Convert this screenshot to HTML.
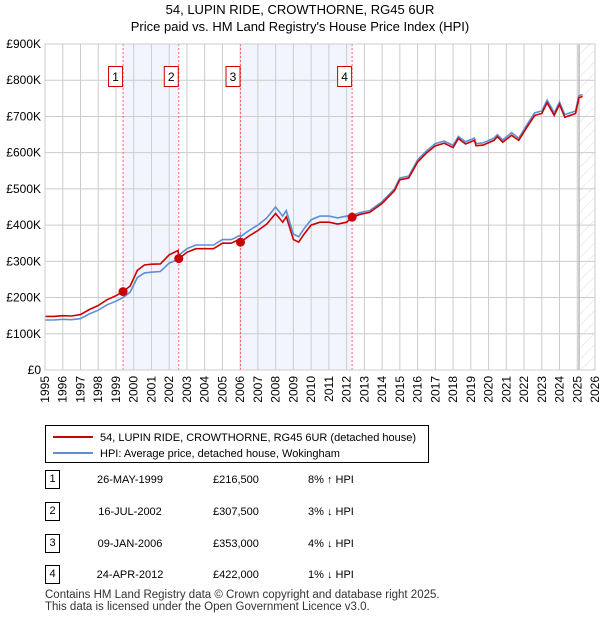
<!DOCTYPE html>
<html><head><meta charset="utf-8"><style>
body{margin:0;background:#fff;font-family:"Liberation Sans","DejaVu Sans",sans-serif;}
#wrap{position:relative;width:600px;height:620px;}
.t{position:absolute;font-size:12px;color:#000;}
</style></head><body>
<div id="wrap">
<svg id="svg" width="600" height="620" style="position:absolute;left:0;top:0">
<defs><pattern id="hatch" width="8" height="8" patternUnits="userSpaceOnUse" patternTransform="rotate(45)"><line x1="0" y1="0" x2="0" y2="8" stroke="#d4d4d4" stroke-width="0.8"/></pattern></defs>
<text x="300" y="14" text-anchor="middle" font-size="13">54, LUPIN RIDE, CROWTHORNE, RG45 6UR</text>
<text x="300" y="31" text-anchor="middle" font-size="13">Price paid vs. HM Land Registry's House Price Index (HPI)</text>
<g id="plot"></g>
</svg>
<svg width="600" height="620" style="position:absolute;left:0;top:0;pointer-events:none">
<rect x="45.5" y="425.5" width="383" height="37" fill="#fff" stroke="#000"/>
<line x1="53" y1="437" x2="93" y2="437" stroke="#cc0000" stroke-width="2"/>
<text x="100" y="441" font-size="11">54, LUPIN RIDE, CROWTHORNE, RG45 6UR (detached house)</text>
<line x1="53" y1="453" x2="93" y2="453" stroke="#5b8fd6" stroke-width="2"/>
<text x="100" y="457" font-size="11">HPI: Average price, detached house, Wokingham</text>
</svg>
<div id="table"></div>
<div class="t" style="left:45px;top:589px;font-size:11.5px;color:#333;line-height:12px">Contains HM Land Registry data © Crown copyright and database right 2025.<br>This data is licensed under the Open Government Licence v3.0.</div>
</div>
<script>
const dates=[1995.0,1995.5,1996,1996.5,1997,1997.5,1998,1998.5,1999,1999.4,1999.8,2000.2,2000.6,2001,2001.5,2002,2002.5,2002.54,2003,2003.5,2004,2004.5,2005,2005.5,2006,2006.02,2006.5,2007,2007.5,2008,2008.4,2008.6,2009,2009.3,2009.6,2010,2010.5,2011,2011.5,2012,2012.31,2012.8,2013.3,2014,2014.7,2015,2015.5,2016,2016.5,2017,2017.5,2018,2018.3,2018.7,2019.2,2019.3,2019.7,2020.3,2020.5,2020.8,2021.3,2021.7,2022.2,2022.6,2023,2023.3,2023.7,2024,2024.3,2024.9,2025.1,2025.3];
const hpiValues=[138,138,140,139,142,155,165,180,190,200,215,255,268,270,272,295,305,317,335,345,345,345,360,360,372,368,385,400,420,450,425,440,375,368,390,415,425,425,420,425,427,435,440,465,500,530,535,580,605,625,632,620,645,630,640,625,627,640,650,635,655,640,680,710,715,745,710,740,705,715,758,760];
const priceValues=[148,148,150,149,153,167,178,194,205,216.5,232,275,290,292,293,318,330,307.5,325,335,335,335,350,350,362,353,370,385,403,432,408,423,360,353,375,400,408,408,403,408,422,430,435,460,495,525,530,574,599,619,626,614,639,624,634,619,621,634,644,629,648,634,673,703,708,738,703,733,698,708,752,755];
const saleDates=[1999.40,2002.54,2006.02,2012.31];
const salePrices=[216.5,307.5,353,422];
const saleLabels=["1","2","3","4"];
const saleDateText=["26-MAY-1999","16-JUL-2002","09-JAN-2006","24-APR-2012"];
const salePriceText=["£216,500","£307,500","£353,000","£422,000"];
const saleHpiText=["8% ↑ HPI","3% ↓ HPI","4% ↓ HPI","1% ↓ HPI"];
const yTicks=[0,100,200,300,400,500,600,700,800,900];
const yTickLabels=["£0","£100K","£200K","£300K","£400K","£500K","£600K","£700K","£800K","£900K"];
const xYears=[1995,1996,1997,1998,1999,2000,2001,2002,2003,2004,2005,2006,2007,2008,2009,2010,2011,2012,2013,2014,2015,2016,2017,2018,2019,2020,2021,2022,2023,2024,2025,2026];

const L=45,R=595,T=44,B=370,X0=1995,X1=2026,YMAX=900,HATCH=2025.1;
const x=d=>L+(d-X0)/(X1-X0)*(R-L);
const y=v=>B-v/YMAX*(B-T);
const NS="http://www.w3.org/2000/svg";
const g=document.getElementById('plot');
function mk(tag,at,parent){const e=document.createElementNS(NS,tag);for(const k in at)e.setAttribute(k,at[k]);(parent||g).appendChild(e);return e;}
for(let i=0;i<saleDates.length;i+=2){
 const e=mk('rect',{x:x(saleDates[i]),y:T,width:x(saleDates[i+1])-x(saleDates[i]),height:B-T,fill:'#f2f5fd'});
 
 
}
xYears.forEach(yr=>{
 const e=mk('line',{x1:x(yr),x2:x(yr),y1:T,y2:B,stroke:'#cccccc'});
 
 
 const t=mk('text',{x:0,y:0,'font-size':12,'text-anchor':'end',transform:`translate(${x(yr)+4},${B+6}) rotate(-90)`});
 t.textContent=yr;
 
 
});
yTicks.forEach((v,i)=>{
 const e=mk('line',{x1:L,x2:R,y1:y(v),y2:y(v),stroke:'#cccccc'});
 
 
 const t=mk('text',{x:L-4,y:y(v)+4,'font-size':12,'text-anchor':'end'});
 t.textContent=yTickLabels[i];
 
 
});
const h=mk('rect',{x:x(HATCH),y:T,width:R-x(HATCH),height:B-T,fill:'url(#hatch)'});


const vl=mk('line',{x1:x(HATCH),x2:x(HATCH),y1:T,y2:B,stroke:'#999'});


saleDates.forEach(d=>{
 const e=mk('line',{x1:x(d),x2:x(d),y1:T,y2:B,stroke:'#ff6666','stroke-dasharray':'2,2'});
 
 
});
function path(vals){return vals.map((v,i)=>(i?'L':'M')+x(dates[i]).toFixed(1)+','+y(v).toFixed(1)).join('');}
const hp=mk('path',{d:path(hpiValues),fill:'none',stroke:'#5b8fd6','stroke-width':1.6});


const pp=mk('path',{d:path(priceValues),fill:'none',stroke:'#cc0000','stroke-width':1.6});


saleDates.forEach((d,i)=>{
 const c=mk('circle',{cx:x(d),cy:y(salePrices[i]),r:4.5,fill:'#cc0000'});
 
 
 const b=mk('rect',{x:x(d)-14.5,y:66.5,width:14,height:20,fill:'#fff',stroke:'#cc0000'});
 
 
 const t=mk('text',{x:x(d)-7.5,y:81,'font-size':12,'text-anchor':'middle'});
 t.textContent=saleLabels[i];
 
 
});
const ax=mk('rect',{x:L,y:T,width:R-L,height:B-T,fill:'none',stroke:'#cccccc'});


const tb=document.getElementById('table');
const rowY=[481,513,545,576];
saleLabels.forEach((lab,i)=>{
 const yy=rowY[i];
 const add=(txt,left,extra,name)=>{const d=document.createElement('div');d.className='t';d.style.left=left+'px';d.style.top=(yy-7)+'px';d.style.fontSize='11px';if(extra)d.style.cssText+=extra;d.textContent=txt;
  
  
  tb.appendChild(d);};
 add(lab,45,'border:1px solid #000;width:13px;height:17px;line-height:17px;text-align:center;top:'+(yy-11)+'px','row-number');
 add(saleDateText[i],90,'width:80px;text-align:center','row-date');
 add(salePriceText[i],213,'','row-price');
 add(saleHpiText[i],308,'','row-hpi');
});
</script>
</body></html>
